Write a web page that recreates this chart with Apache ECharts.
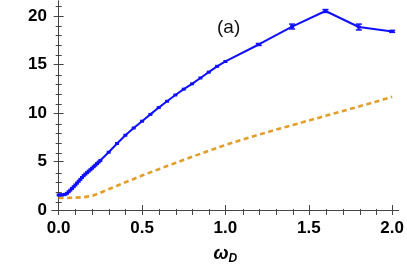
<!DOCTYPE html>
<html><head><meta charset="utf-8">
<script src="https://cdn.jsdelivr.net/npm/echarts@6/dist/echarts.min.js"></script>
<style>html,body{margin:0;padding:0;background:#fff}#c{width:407px;height:270px}</style>
</head><body><div id="c"></div>
<script>
// ---- data ----
const xBlue = [0,0.01,0.02,0.03,0.04,0.05,0.06,0.07,0.08,0.09,0.10,0.11,0.12,0.13,0.14,0.15,0.16,0.17,0.18,0.19,0.20,0.21,0.22,0.23,0.24,0.25,
  0.30,0.35,0.40,0.45,0.50,0.55,0.60,0.65,0.70,0.75,0.80,0.85,0.90,0.95,1.00,1.20,1.40,1.60,1.80,2.00];
const yBlue = [1.55,1.55,1.56,1.58,1.62,1.72,1.88,2.05,2.22,2.40,2.58,2.77,2.96,3.15,3.35,3.54,3.70,3.85,4.00,4.15,4.30,4.46,4.62,4.78,4.94,5.10,
  5.95,6.85,7.70,8.45,9.15,9.85,10.55,11.2,11.85,12.45,13.0,13.6,14.2,14.8,15.3,17.05,18.9,20.5,18.85,18.4];
const xErr = [1.20,1.40,1.60,1.80,2.00];
const yErrLow = [16.95,18.65,20.35,18.55,18.3];
const yErrHigh = [17.15,19.15,20.65,19.15,18.5];
const xOrange = [0,0.05,0.1,0.15,0.2,0.25,0.3,0.35,0.4,0.45,0.5,0.55,0.6,0.65,0.7,0.75,0.8,0.85,0.9,0.95,1.0,
  1.05,1.1,1.15,1.2,1.25,1.3,1.35,1.4,1.45,1.5,1.55,1.6,1.65,1.7,1.75,1.8,1.85,1.9,1.95,2.0];
const yOrange = [1.25,1.25,1.27,1.32,1.45,1.78,2.15,2.5,2.86,3.2,3.55,3.88,4.2,4.53,4.85,5.17,5.48,5.79,6.1,6.4,6.7,
  6.98,7.25,7.5,7.76,8.01,8.26,8.5,8.74,8.98,9.22,9.46,9.7,9.94,10.18,10.42,10.66,10.9,11.14,11.4,11.66];
const xMajor = [0,0.5,1.0,1.5,2.0];
const xMinor = [0.1,0.2,0.3,0.4,0.6,0.7,0.8,0.9,1.1,1.2,1.3,1.4,1.6,1.7,1.8,1.9];
const yMajor = [0,5,10,15,20];
const yMinor = [1,2,3,4,6,7,8,9,11,12,13,14,16,17,18,19,21];
const panelLabel = '(a)';
const xName = 'ω';
const xSub = 'D';

// ---- chart ----
const XMIN=-0.04, XMAX=2.039, YMIN=-0.41, YMAX=21.53;
const frame='#444';
const gridRect={left:52,right:7,top:1,bottom:54};
const lbl={color:'#000',fontWeight:'bold',fontSize:17,fontFamily:'Liberation Sans, Arial, sans-serif'};
function ax(gi,pos,major,vals,len,isX,showLine,labels){
  const a={type:'value',gridIndex:gi,position:pos,min:isX?XMIN:YMIN,max:isX?XMAX:YMAX,
    splitLine:{show:false},
    axisLine:{show:showLine,lineStyle:{color:frame,width:1}},
    axisTick:{show:true,inside:true,length:len,customValues:vals,lineStyle:{color:frame,width:1}},
    axisLabel:labels?Object.assign({show:true,customValues:vals,margin:isX?6:5,
      formatter:v=>isX?Number(v).toFixed(1):String(Math.round(v))},lbl):{show:false}
  };
  return a;
}
const chart=echarts.init(document.getElementById('c'),null,{renderer:'canvas'});
const xAxes=[
  Object.assign(ax(0,'bottom',true,xMajor,5,true,true,true),{
    name:'{w|'+xName+'}{s|'+xSub+'}',nameLocation:'middle',nameGap:30,
    nameTextStyle:{rich:{w:{fontSize:18,fontStyle:'italic',fontWeight:'bold',color:'#000',fontFamily:'Liberation Sans, Arial'},
      s:{fontSize:12,fontStyle:'italic',fontWeight:'bold',color:'#000',padding:[9,0,0,0],fontFamily:'Liberation Sans, Arial'}}}}),
  ax(0,'top',true,xMajor,5,true,true,false),
  ax(1,'bottom',false,xMinor,3,true,false,false),
  ax(1,'top',false,xMinor,3,true,false,false)
];
const yAxes=[
  ax(0,'left',true,yMajor,5,false,true,true),
  ax(0,'right',true,yMajor,5,false,true,false),
  ax(1,'left',false,yMinor,3,false,false,false),
  ax(1,'right',false,yMinor,3,false,false,false)
];
const blue='#1010FF', orange='#E39E27';
chart.setOption({
  animation:false,
  grid:[Object.assign({},gridRect),Object.assign({},gridRect)],
  title:{text:panelLabel,left:212,top:13,textStyle:{fontSize:19,fontWeight:'normal',color:'#111',fontFamily:'Liberation Sans, Arial'}},
  xAxis:xAxes,yAxis:yAxes,
  series:[
    {type:'line',xAxisIndex:0,yAxisIndex:0,data:xOrange.map((x,i)=>[x,yOrange[i]]),showSymbol:false,
      lineStyle:{color:orange,width:2.6,type:[5,3.5]},z:2},
    {type:'line',xAxisIndex:0,yAxisIndex:0,data:xBlue.map((x,i)=>[x,yBlue[i]]),symbol:'rect',symbolSize:[4,3],
      itemStyle:{color:blue},lineStyle:{color:blue,width:2},z:3},
    {type:'custom',xAxisIndex:0,yAxisIndex:0,data:xErr.map((x,i)=>[x,yErrLow[i],yErrHigh[i]]),z:4,
      renderItem:function(params,api){
        const lo=api.coord([api.value(0),api.value(1)]);
        const hi=api.coord([api.value(0),api.value(2)]);
        const w=3;
        const st={stroke:blue,lineWidth:1.5};
        return {type:'group',children:[
          {type:'line',shape:{x1:lo[0],y1:lo[1],x2:hi[0],y2:hi[1]},style:st},
          {type:'line',shape:{x1:lo[0]-w,y1:lo[1],x2:lo[0]+w,y2:lo[1]},style:st},
          {type:'line',shape:{x1:hi[0]-w,y1:hi[1],x2:hi[0]+w,y2:hi[1]},style:st}
        ]};
      }}
  ]
});
</script></body></html>
